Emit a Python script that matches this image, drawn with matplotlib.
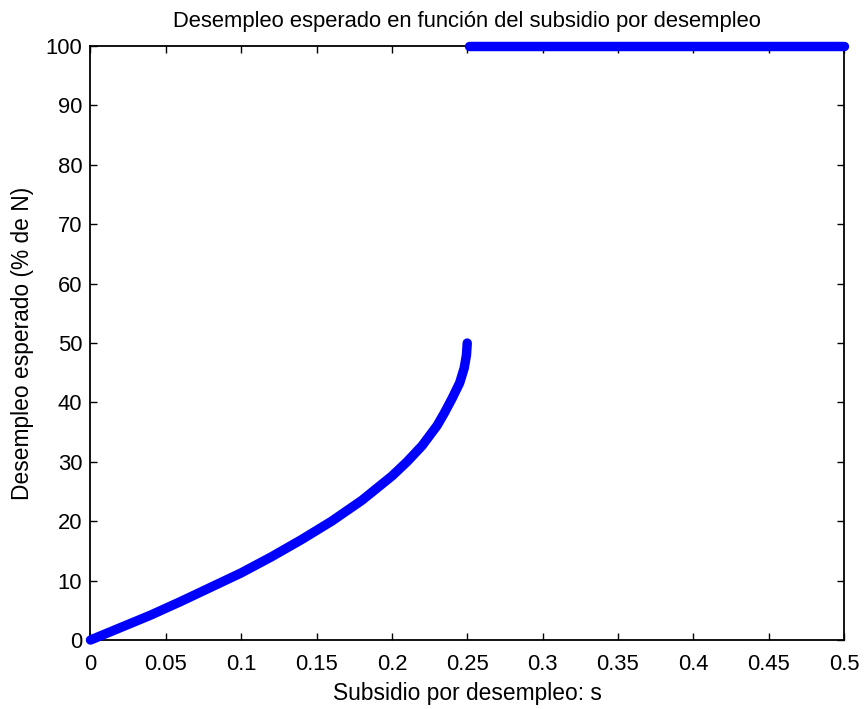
import numpy as np
import matplotlib.pyplot as plt

plt.rcParams['font.family'] = ['Liberation Sans', 'DejaVu Sans']

# values
subsidio_bajo = [0, 0.02, 0.04, 0.06, 0.08, 0.10, 0.12, 0.14, 0.16, 0.18,
                 0.20, 0.21, 0.22, 0.23, 0.235, 0.24, 0.245, 0.248, 0.2495, 0.25]
desempleo_bajo = [0, 2.1, 4.2, 6.5, 8.9, 11.3, 14.0, 16.9, 20.0, 23.5,
                  27.6, 30.0, 32.7, 36.1, 38.3, 40.7, 43.3, 45.8, 48.0, 50.0]

subsidio_alto = [0.251, 0.5]
desempleo_alto = [100, 100]

x_ticks = [0, 0.05, 0.1, 0.15, 0.2, 0.25, 0.3, 0.35, 0.4, 0.45, 0.5]
x_tick_labels = ["0", "0.05", "0.1", "0.15", "0.2", "0.25", "0.3", "0.35", "0.4", "0.45", "0.5"]
y_ticks = [0, 10, 20, 30, 40, 50, 60, 70, 80, 90, 100]

fig = plt.figure(figsize=(8.65, 7.09), dpi=100)
ax = fig.add_axes([0.1046, 0.0973, 0.8711, 0.8377])

for xs, ys in [(subsidio_bajo, desempleo_bajo), (subsidio_alto, desempleo_alto)]:
    ax.plot(
        xs,
        ys,
        color="#0000ff",
        linewidth=6.8,
        solid_capstyle="round",
        solid_joinstyle="round",
        clip_on=False,
        zorder=5
    )

ax.set_xlim(0, 0.5)
ax.set_ylim(0, 100)
ax.set_xticks(x_ticks)
ax.set_xticklabels(x_tick_labels)
ax.set_yticks(y_ticks)

ax.tick_params(direction="in", length=5, width=1, top=True, right=True,
               labelsize=15.8)
ax.tick_params(axis="x", pad=10)
ax.tick_params(axis="y", pad=6)
for spine in ax.spines.values():
    spine.set_linewidth(1.3)

ax.set_xlabel("Subsidio por desempleo: s", fontsize=16.4, labelpad=5)
ax.set_ylabel("Desempleo esperado (% de N)", fontsize=16.4, labelpad=8)
ax.set_title("Desempleo esperado en función del subsidio por desempleo",
             fontsize=15.8, pad=14)

plt.savefig("out.png", dpi=100)
